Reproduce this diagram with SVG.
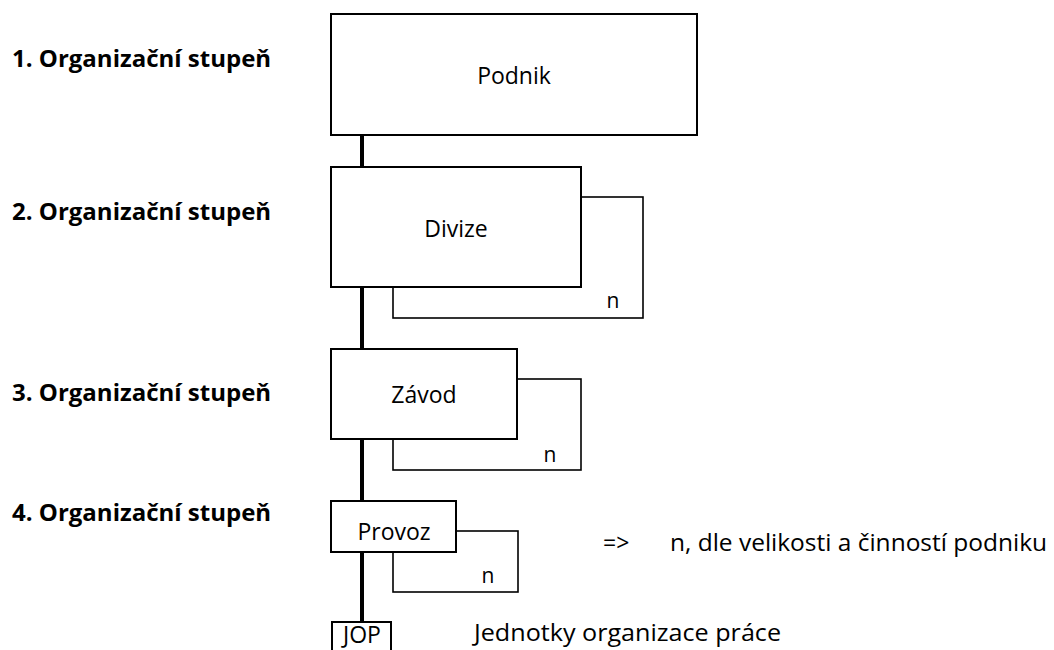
<svg xmlns="http://www.w3.org/2000/svg" width="1054" height="650" viewBox="0 0 1054 650">
  <style>
    .box { fill: #ffffff; stroke: #000000; stroke-width: 2; }
    .back { fill: #ffffff; stroke: #000000; stroke-width: 1.6; }
    .spine { stroke: #000000; stroke-width: 4; fill: none; }
    .lvl { font-family: "Open Sans", "Liberation Sans", sans-serif; font-weight: bold; font-size: 24px; fill: #000000; }
    .lbl { font-family: "Open Sans", "Liberation Sans", sans-serif; font-size: 23px; fill: #000000; }
    .cnt { font-family: "Open Sans", "Liberation Sans", sans-serif; font-size: 21px; fill: #000000; }
  </style>
  <rect width="1054" height="650" fill="#ffffff"/>

  <!-- level captions -->
  <g id="levels">
    <text class="lvl" x="12" y="67">1. Organizační stupeň</text>
    <text class="lvl" x="12" y="220">2. Organizační stupeň</text>
    <text class="lvl" x="12" y="401">3. Organizační stupeň</text>
    <text class="lvl" x="12" y="521">4. Organizační stupeň</text>
  </g>

  <!-- vertical spine linking the levels -->
  <g id="connectors">
    <line class="spine" x1="362" y1="135" x2="362" y2="167"/>
    <line class="spine" x1="362" y1="287" x2="362" y2="349"/>
    <line class="spine" x1="362" y1="439" x2="362" y2="501"/>
    <line class="spine" x1="362" y1="552" x2="362" y2="622"/>
  </g>

  <g id="podnik">
    <rect class="box" x="331" y="14" width="366" height="121"/>
    <text class="lbl" x="514" y="84" text-anchor="middle">Podnik</text>
  </g>

  <g id="divize">
    <rect class="back" x="393" y="197" width="250" height="121"/>
    <rect class="box" x="331" y="167" width="250" height="120"/>
    <text class="lbl" x="456" y="237" text-anchor="middle">Divize</text>
    <text class="cnt" x="613" y="308" text-anchor="middle">n</text>
  </g>

  <g id="zavod">
    <rect class="back" x="393" y="379" width="188" height="91"/>
    <rect class="box" x="331" y="349" width="186" height="90"/>
    <text class="lbl" x="424" y="403" text-anchor="middle">Závod</text>
    <text class="cnt" x="550" y="462" text-anchor="middle">n</text>
  </g>

  <g id="provoz">
    <rect class="back" x="393" y="531" width="125" height="61"/>
    <rect class="box" x="331" y="501" width="125" height="51"/>
    <text class="lbl" x="394" y="540" text-anchor="middle">Provoz</text>
    <text class="cnt" x="488" y="583" text-anchor="middle">n</text>
  </g>

  <g id="jop">
    <rect class="box" x="332" y="622" width="59" height="40"/>
    <text class="lbl" x="362" y="643" text-anchor="middle" font-size="21">JOP</text>
  </g>

  <g id="notes">
    <text class="lbl" x="603" y="551">=&gt;</text>
    <text class="lbl" x="670" y="551" textLength="377" lengthAdjust="spacingAndGlyphs">n, dle velikosti a činností podniku</text>
    <text class="lbl" x="474" y="641" textLength="307" lengthAdjust="spacingAndGlyphs">Jednotky organizace práce</text>
  </g>
</svg>
